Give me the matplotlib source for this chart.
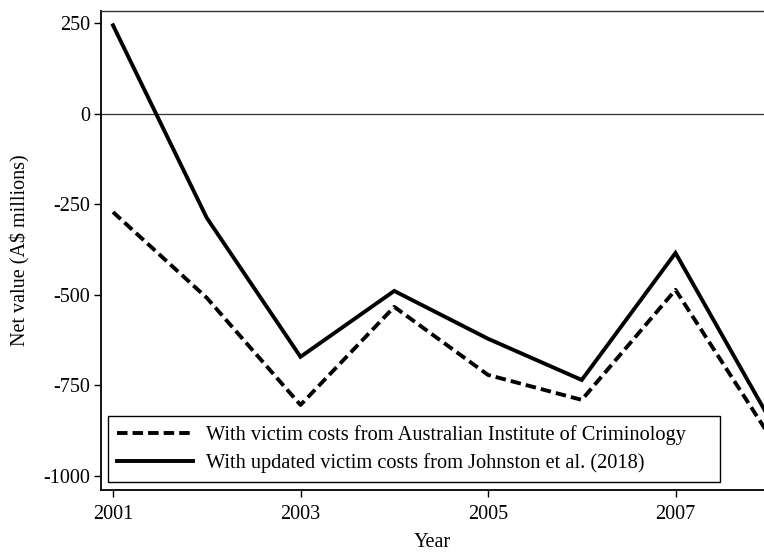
import matplotlib
matplotlib.use("Agg")
import matplotlib.pyplot as plt

plt.rcParams["font.family"] = ["Liberation Serif", "DejaVu Serif"]

years = [2001, 2002, 2003, 2004, 2005, 2006, 2007, 2008]
net_aic = [-271, -508, -804, -533, -721, -790, -486, -888]
net_johnston = [245, -287, -671, -489, -621, -735, -384, -841]

label_aic = "With victim costs from Australian Institute of Criminology"
label_johnston = "With updated victim costs from Johnston et al. (2018)"

yticks = [250, 0, -250, -500, -750, -1000]
xticks = [2001, 2003, 2005, 2007]

fig = plt.figure(figsize=(7.64, 5.52), dpi=100)
ax = fig.add_axes([101 / 764, 1 - 490 / 552, 663 / 764, 479 / 552])

ax.axhline(0, color="#333333", lw=0.9, zorder=1)

ax.plot(years, net_aic, color="black", lw=2.8, dashes=(2.7, 1.3),
        solid_capstyle="butt", label=label_aic, zorder=3)
ax.plot(years, net_johnston, color="black", lw=2.8,
        solid_joinstyle="miter", label=label_johnston, zorder=3)

ax.set_xlim(2000.872, 2007.944)
ax.set_ylim(-1039, 284.5)
ax.set_xticks(xticks)
ax.set_yticks(yticks)
ax.set_yticklabels([str(t) for t in yticks])

ax.tick_params(axis="both", direction="out", length=5, width=1,
               labelsize=14.5, pad=3, color="black")
ax.tick_params(axis="x", pad=6)
for side in ["left", "bottom"]:
    ax.spines[side].set_linewidth(1.3)
ax.spines["top"].set_linewidth(1.0)
ax.spines["top"].set_color("#333333")
ax.spines["right"].set_visible(False)

ax.set_ylabel("Net value (A$ millions)", fontsize=14.5)
ax.yaxis.set_label_coords(-0.107, 0.5)
ax.set_xlabel("Year", fontsize=14.5)
ax.xaxis.set_label_coords(0.5, -0.09)

leg = ax.legend(loc="lower left",
                bbox_to_anchor=(7 / 663, 8 / 479, 612 / 663, 66 / 479),
                mode="expand", borderaxespad=0, fontsize=14.7,
                handlelength=3.75, handletextpad=0.62, labelspacing=0.42,
                borderpad=0.42, fancybox=False, framealpha=1)
leg.get_frame().set_edgecolor("black")
leg.get_frame().set_linewidth(1.0)

fig.savefig("out.png", dpi=100)
